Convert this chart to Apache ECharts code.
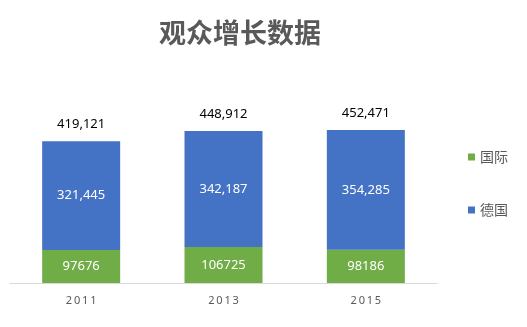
<!DOCTYPE html>
<html>
<head>
<meta charset="utf-8">
<script src="https://cdn.jsdelivr.net/npm/echarts@6/dist/echarts.min.js"></script>
<style>html,body{margin:0;padding:0;background:#fff;}#c{width:527px;height:327px;}</style>
</head>
<body>
<div id="c"></div>
<script>
const categories = ['2011', '2013', '2015'];
const intlValues = [97676, 106725, 98186];
const deValues = [321445, 342187, 354285];
const totals = [419121, 448912, 452471];

const chart = echarts.init(document.getElementById('c'));
const fmt = v => v.toLocaleString('en-US');
chart.setOption({
  animation: false,
  title: {
    text: '观众增长数据', left: 235, top: 14, textAlign: 'center',
    textStyle: { fontFamily: 'Noto Sans CJK SC', fontSize: 27, fontWeight: 'bold', color: '#595959' }
  },
  legend: {
    orient: 'vertical', left: 463, top: 145, itemGap: 39,
    itemWidth: 7, itemHeight: 7, icon: 'rect',
    data: ['国际', '德国'],
    textStyle: { fontFamily: 'Noto Sans CJK SC', fontSize: 14, color: '#595959' }
  },
  grid: { left: 10, right: 90, top: 80, bottom: 44 },
  xAxis: {
    type: 'category', data: categories,
    axisLine: { lineStyle: { color: '#d9d9d9' } },
    axisTick: { show: false },
    axisLabel: {
      color: '#595959', fontSize: 11, fontFamily: 'Noto Sans', margin: 12,
      formatter: v => v.split('').join('\u2009')
    }
  },
  yAxis: { type: 'value', min: 0, max: 600000, show: false, splitLine: { show: false } },
  series: [
    {
      name: '国际', type: 'bar', stack: 'a', data: intlValues, barWidth: 78,
      itemStyle: { color: '#70AD47' },
      label: { show: true, position: 'inside', color: '#fff', fontSize: 13, fontFamily: 'Noto Sans', formatter: p => String(p.value) }
    },
    {
      name: '德国', type: 'bar', stack: 'a', data: deValues, barWidth: 78,
      itemStyle: { color: '#4472C4' },
      label: { show: true, position: 'inside', color: '#fff', fontSize: 13, fontFamily: 'Noto Sans', formatter: p => fmt(p.value) }
    },
    {
      name: '总计', type: 'bar', stack: 'a', data: totals.map(() => 0), barWidth: 78,
      itemStyle: { color: 'transparent' },
      label: { show: true, position: 'top', distance: 10, color: '#000', fontSize: 13, fontFamily: 'Noto Sans', formatter: p => fmt(totals[p.dataIndex]) }
    }
  ]
});
</script>
</body>
</html>
